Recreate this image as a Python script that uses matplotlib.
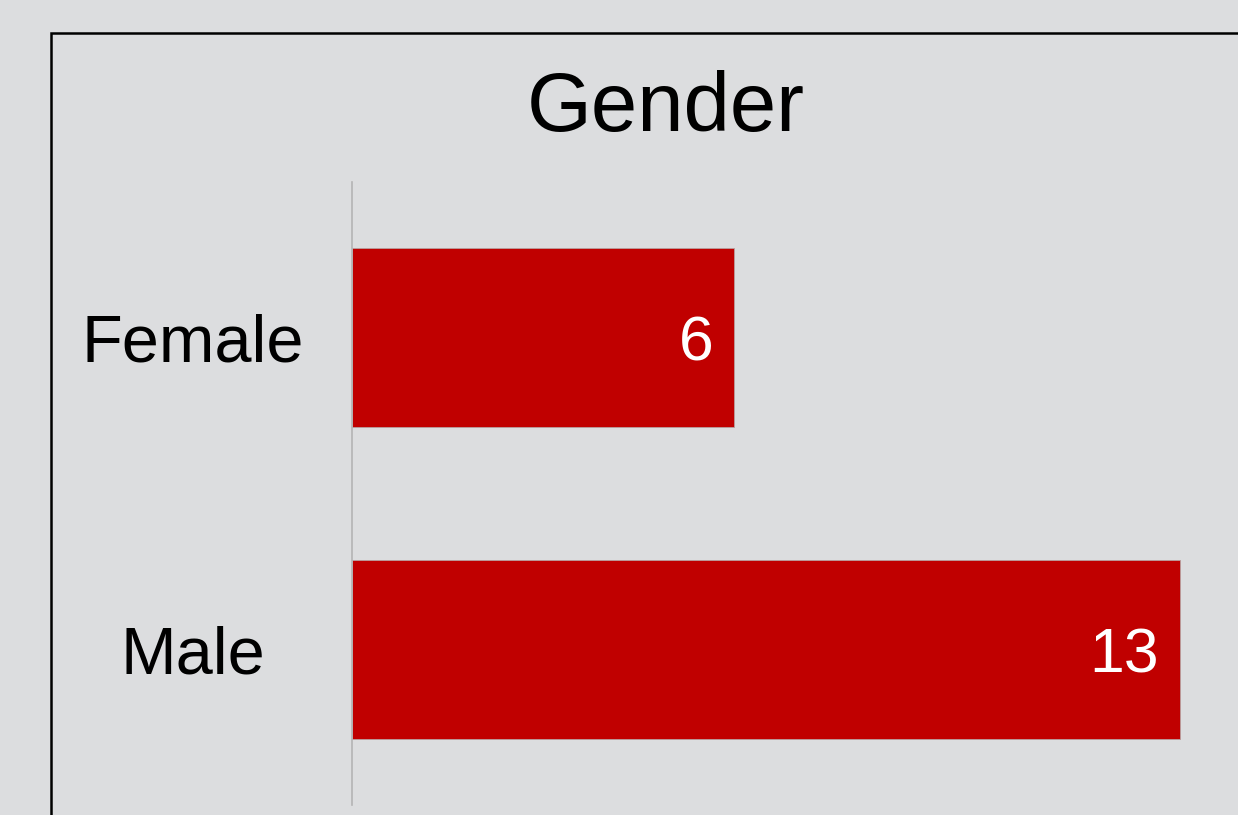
import matplotlib
matplotlib.use("Agg")
import matplotlib.pyplot as plt
from matplotlib.patches import Rectangle

categories = ["Female", "Male"]
counts = [6, 13]
title = "Gender"

BG = "#dcdddf"
BAR = "#c00000"

W, H = 1238, 815
fig = plt.figure(figsize=(W / 100, H / 100), dpi=100, facecolor=BG)

# outer frame, runs off the right and bottom edges
frame = Rectangle((51 / W, -0.1), 1.2, 1 - 33 / H + 0.1, transform=fig.transFigure,
                  fill=False, edgecolor="black", linewidth=1.8, clip_on=False)
fig.patches.append(frame)

ax = fig.add_axes([352 / W, 10 / H, (W - 352) / W, (805 - 182) / H])
ax.set_facecolor(BG)

y = list(range(len(categories)))
bars = ax.barh(y, counts, height=0.575, color=BAR, edgecolor="#b8a0a0", linewidth=0.6)
ax.set_xlim(0, (W - 352) / 63.7)
ax.set_ylim(len(categories) - 0.5, -0.5)

for s in ["top", "right", "bottom"]:
    ax.spines[s].set_visible(False)
ax.spines["left"].set_color("#b4b4b4")
ax.spines["left"].set_linewidth(1.2)
ax.set_xticks([])
ax.set_yticks([])

font = "Liberation Sans"
for yi, name in zip(y, categories):
    ax.annotate(name, xy=(0, yi), xycoords=("axes fraction", "data"),
                xytext=(-114.5, 0), textcoords="offset points",
                ha="center", va="center_baseline", fontsize=48, family=font)

for b, v in zip(bars, counts):
    ax.annotate(str(v), xy=(b.get_width(), b.get_y() + b.get_height() / 2),
                xytext=(-15, 0), textcoords="offset points",
                ha="right", va="center_baseline", fontsize=45, color="white", family=font)

fig.text(666 / W, 1 - 131 / H, title, ha="center", va="baseline", fontsize=60, family=font)

fig.savefig("out.png", dpi=100, facecolor=BG)
